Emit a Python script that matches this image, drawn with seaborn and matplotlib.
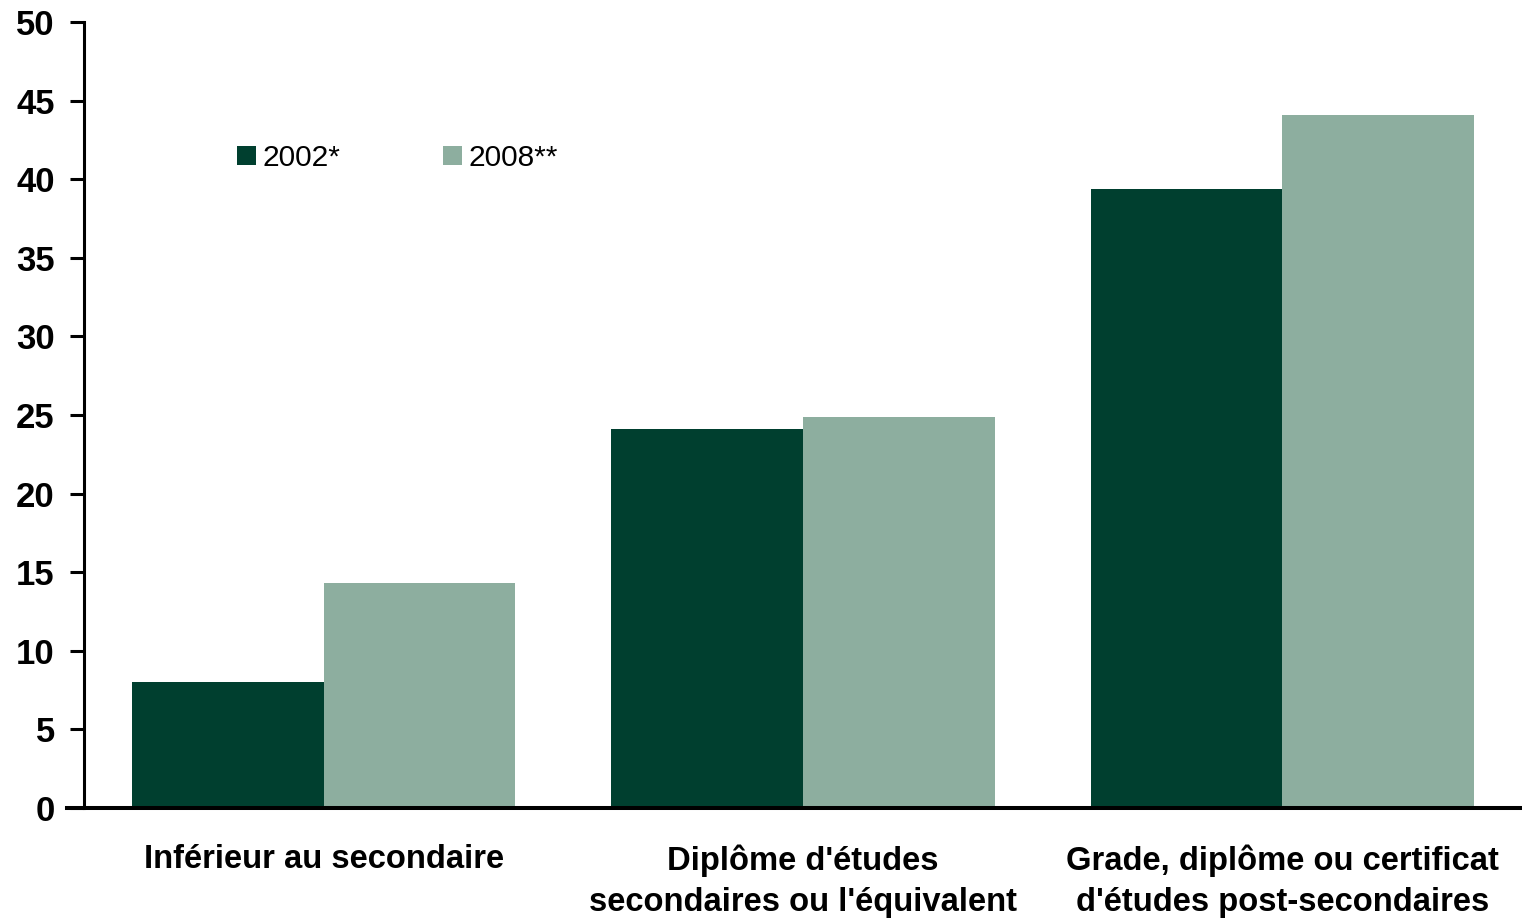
import pandas as pd
import seaborn as sns
import matplotlib.pyplot as plt
from matplotlib.patches import Patch

# Data
categories = ["Inférieur au secondaire",
              "Diplôme d'études\nsecondaires ou l'équivalent",
              "Grade, diplôme ou certificat\nd'études post-secondaires"]
years = ["2002*", "2008**"]
values_2002 = [8.0, 24.1, 39.4]
values_2008 = [14.3, 24.9, 44.1]
colors = ["#003F2F", "#8DAE9F"]

df = pd.DataFrame({
    "categorie": categories * 2,
    "annee": [years[0]] * 3 + [years[1]] * 3,
    "valeur": values_2002 + values_2008,
})

sns.set_style("white", rc={"text.color": "black", "xtick.color": "black",
                           "ytick.color": "black", "axes.labelcolor": "black"})
plt.rcParams['font.family'] = ['Liberation Sans', 'DejaVu Sans']

fig = plt.figure(figsize=(15.22, 9.18), dpi=100)
ax = fig.add_axes([84 / 1522, 110 / 918, 1438 / 1522, 786 / 918])

sns.barplot(data=df, x="categorie", y="valeur", hue="annee", order=categories,
            hue_order=years, palette=colors, width=0.8, gap=0, saturation=1,
            linewidth=0, ax=ax, legend=False)

ax.set_xlim(-0.5, 2.5)
ax.set_ylim(0, 50)
ax.set_yticks(range(0, 51, 5))
ax.set_xlabel("")
ax.set_ylabel("")

for side in ["top", "right"]:
    ax.spines[side].set_visible(False)
ax.spines["left"].set_linewidth(2.2)
ax.spines["bottom"].set_linewidth(2.9)
ax.spines["left"].set_color("black")
ax.spines["bottom"].set_color("black")
ax.spines["bottom"].set_bounds(-0.535, 2.5)

ax.tick_params(axis="y", direction="out", length=10, width=2.2, pad=11,
               labelsize=25, left=True, color="black")
ax.tick_params(axis="x", length=0, pad=26, labelsize=23.6)
for lbl in ax.get_yticklabels():
    lbl.set_fontweight("bold")
for lbl in ax.get_xticklabels():
    lbl.set_fontweight("bold")
    lbl.set_linespacing(1.42)

handles = [Patch(facecolor=c, edgecolor="none") for c in colors]
ax.legend(handles, years, loc="center left", bbox_to_anchor=(0.1064, 0.827),
          ncol=2, frameon=False, fontsize=21.5, handlelength=0.64, handleheight=0.64,
          handletextpad=0.2, columnspacing=3.45, borderpad=0, borderaxespad=0)

fig.savefig("out.png", dpi=100)
